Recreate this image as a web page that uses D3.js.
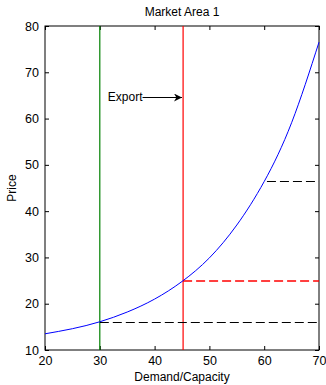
<!DOCTYPE html>
<html>
<head>
<meta charset="utf-8">
<script src="https://cdn.jsdelivr.net/npm/d3@7"></script>
<style>
  body { margin: 0; background: #fff; }
  svg text { font-family: "Liberation Sans", Arial, sans-serif; font-size: 12px; fill: #000; }
</style>
</head>
<body>
<div id="chart"></div>
<script>
"use strict";

// supply curve
const demand = [20, 25, 30, 35, 40, 45, 50, 55, 60, 65, 70];
const price = [13.5, 14.6, 16.1, 18.2, 21.0, 24.8, 29.9, 37.0, 46.4, 59.1, 76.5];

const xTicks = [20, 30, 40, 50, 60, 70];
const yTicks = [10, 20, 30, 40, 50, 60, 70, 80];

// vertical markers: [x, colour]
const vLines = [[30, "#008000"], [45.2, "#ff0000"]];
// dashed levels: [xStart, xEnd, y, colour]
const hLines = [[30, 70, 16.1, "#000000"], [45.2, 70, 24.8, "#ff0000"], [60.5, 70, 46.5, "#000000"]];
// annotation: text, arrow from x0 to x1 at y
const exportNote = { label: "Export", x0: 37.8, x1: 45.0, y: 64.6 };

var width = 326,
    height = 385,
    margin = { top: 26, right: 7, bottom: 35, left: 45 };

var x = d3.scaleLinear().domain([20, 70]).range([margin.left, width - margin.right]);
var y = d3.scaleLinear().domain([10, 80]).range([height - margin.bottom, margin.top]);

// snap to pixel centre so thin black lines stay sharp
var px = v => Math.round(v) + 0.5;
var isRed = d => d[3] === "#ff0000";

var svg = d3.select("#chart").append("svg")
    .attr("width", width)
    .attr("height", height);

svg.append("defs").append("marker")
    .attr("id", "head")
    .attr("viewBox", "0 0 10 10")
    .attr("refX", 10).attr("refY", 5)
    .attr("markerWidth", 11).attr("markerHeight", 8)
    .attr("markerUnits", "userSpaceOnUse")
    .attr("orient", "auto")
  .append("path")
    .attr("d", "M0,0 L10,5 L0,10 L3,5 Z")
    .attr("fill", "#000");

// inner ticks on all four sides, MATLAB style
svg.append("g")
    .attr("transform", "translate(0," + y(10) + ")")
    .call(d3.axisBottom(x).tickValues(xTicks).tickSizeInner(-4).tickSizeOuter(0).tickPadding(6))
    .call(g => g.select(".domain").remove());
svg.append("g")
    .attr("transform", "translate(0," + y(80) + ")")
    .call(d3.axisTop(x).tickValues(xTicks).tickSizeInner(-4).tickSizeOuter(0).tickFormat(""))
    .call(g => g.select(".domain").remove());
svg.append("g")
    .attr("transform", "translate(" + x(20) + ",0)")
    .call(d3.axisLeft(y).tickValues(yTicks).tickSizeInner(-4).tickSizeOuter(0).tickPadding(6))
    .call(g => g.select(".domain").remove());
svg.append("g")
    .attr("transform", "translate(" + x(70) + ",0)")
    .call(d3.axisRight(y).tickValues(yTicks).tickSizeInner(-4).tickSizeOuter(0).tickFormat(""))
    .call(g => g.select(".domain").remove());

svg.selectAll(".tick text")
    .style("font-family", "'Liberation Sans', Arial, sans-serif")
    .style("font-size", "12.5px");

svg.append("rect")
    .attr("x", x(20)).attr("y", y(80))
    .attr("width", x(70) - x(20)).attr("height", y(10) - y(80))
    .attr("fill", "none").attr("stroke", "#000");

var plot = svg.append("g");

plot.selectAll(".vline")
    .data(vLines)
  .enter().append("line")
    .attr("x1", d => x(d[0])).attr("x2", d => x(d[0]))
    .attr("y1", y(80)).attr("y2", y(10))
    .style("stroke", d => d[1])
    .style("stroke-width", 1.2);

plot.selectAll(".hline")
    .data(hLines)
  .enter().append("line")
    .attr("x1", d => x(d[0])).attr("x2", d => x(d[1]))
    .attr("y1", d => isRed(d) ? Math.round(y(d[2])) : px(y(d[2])))
    .attr("y2", d => isRed(d) ? Math.round(y(d[2])) : px(y(d[2])))
    .style("stroke", d => d[3])
    .style("stroke-width", d => isRed(d) ? 1.5 : 1)
    .style("stroke-dasharray", "9,4");

var line = d3.line()
    .x(d => x(d[0]))
    .y(d => y(d[1]))
    .curve(d3.curveNatural);

plot.append("path")
    .datum(d3.zip(demand, price))
    .attr("d", line)
    .attr("fill", "none")
    .attr("stroke", "#0000ff");

svg.append("text")
    .attr("x", x(exportNote.x0))
    .attr("y", y(exportNote.y) + 4)
    .attr("text-anchor", "end")
    .text(exportNote.label);

svg.append("line")
    .attr("x1", x(exportNote.x0)).attr("x2", x(exportNote.x1))
    .attr("y1", px(y(exportNote.y))).attr("y2", px(y(exportNote.y)))
    .attr("stroke", "#000")
    .attr("marker-end", "url(#head)");

svg.append("text")
    .attr("x", (x(20) + x(70)) / 2)
    .attr("y", 16)
    .attr("text-anchor", "middle")
    .text("Market Area 1");

svg.append("text")
    .attr("x", (x(20) + x(70)) / 2)
    .attr("y", 381)
    .attr("text-anchor", "middle")
    .text("Demand/Capacity");

svg.append("text")
    .attr("transform", "translate(16," + (y(45)) + ") rotate(-90)")
    .attr("text-anchor", "middle")
    .text("Price");
</script>
</body>
</html>
